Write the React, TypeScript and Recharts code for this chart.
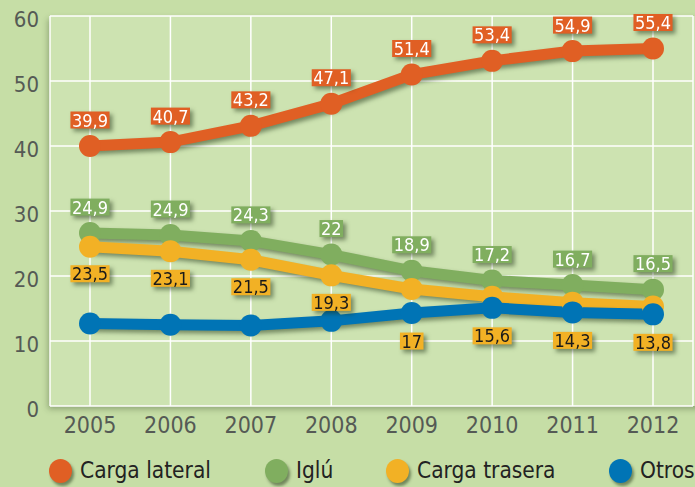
import { LineChart, Line, XAxis, YAxis, CartesianGrid, Legend, LabelList } from "recharts";

const years = ["2005", "2006", "2007", "2008", "2009", "2010", "2011", "2012"];

// plotted positions
const cargaLateral = [40.0, 40.6, 43.1, 46.5, 51.0, 53.1, 54.6, 55.0];
const iglu = [26.6, 26.3, 25.4, 23.3, 20.8, 19.3, 18.6, 17.9];
const cargaTrasera = [24.5, 23.8, 22.5, 20.1, 18.0, 16.8, 15.9, 15.3];
const otros = [12.7, 12.5, 12.4, 13.1, 14.3, 15.1, 14.4, 14.1];

// printed value labels
const lateralLabels = ["39,9", "40,7", "43,2", "47,1", "51,4", "53,4", "54,9", "55,4"];
const igluLabels = ["24,9", "24,9", "24,3", "22", "18,9", "17,2", "16,7", "16,5"];
const traseraLabels = ["23,5", "23,1", "21,5", "19,3", "17", "15,6", "14,3", "13,8"];

const yTicks = [0, 10, 20, 30, 40, 50, 60];

const series = [
  { key: "lateral", name: "Carga lateral", color: "#e05f24", left: 49 },
  { key: "iglu", name: "Iglú", color: "#80ae5f", left: 265 },
  { key: "trasera", name: "Carga trasera", color: "#f2b125", left: 386 },
  { key: "otros", name: "Otros", color: "#0074b5", left: 609 },
];

const data = years.map((year, i) => ({
  year,
  lateral: cargaLateral[i],
  iglu: iglu[i],
  trasera: cargaTrasera[i],
  otros: otros[i],
}));

const FONT = "'DejaVu Sans Condensed', 'Liberation Sans Narrow', Roboto, sans-serif";
const LABEL_FS = 18;

// trasera label goes under the blue line when the two lines are close
const nearOtros = (i: number) => cargaTrasera[i] - otros[i] < 6;

const textWidth = (s: string) =>
  s.split("").reduce((w, c) => w + (c === "," ? 0.29 : 0.572) * LABEL_FS, 0);

const makeLabel =
  (labels: string[], bg: string, fg: string, dy: number, show: (i: number) => boolean) =>
  // eslint-disable-next-line @typescript-eslint/no-explicit-any
  (props: any) => {
    const { x, y, index } = props;
    if (x == null || y == null || !show(index)) return null;
    const txt = labels[index];
    const w = textWidth(txt) + 3;
    const cy = y + dy;
    return (
      <g className="lbl">
        <rect x={x - w / 2} y={cy - 8.5} width={w} height={17} fill={bg} />
        <text x={x} y={cy + 6.5} textAnchor="middle" fontSize={LABEL_FS} fill={fg} fontFamily={FONT}>
          {txt}
        </text>
      </g>
    );
  };

const renderLegend = () => (
  <div style={{ position: "relative", height: 40, fontFamily: FONT, fontSize: 22.5, color: "#222" }}>
    {series.map((s) => (
      <div
        key={s.key}
        style={{
          position: "absolute",
          left: s.left,
          top: 12,
          display: "flex",
          alignItems: "center",
          height: 23,
          whiteSpace: "nowrap",
        }}
      >
        <span
          style={{
            width: 23,
            height: 24,
            flexShrink: 0,
            borderRadius: "50%",
            background: s.color,
            marginRight: 8,
            boxShadow: "2px 3px 3px rgba(30,50,20,0.5)",
          }}
        />
        <span style={{ lineHeight: "23px" }}>{s.name}</span>
      </div>
    ))}
  </div>
);

export default function App() {
  return (
    <div
      style={{
        position: "absolute",
        left: 0,
        top: 0,
        width: 695,
        height: 487,
        background: "#c6dea6",
        overflow: "hidden",
      }}
    >
      <style>{`
        .recharts-line, .lbl { filter: drop-shadow(3px 3px 2px rgba(30,50,20,0.5)); }
      `}</style>
      <div
        style={{
          position: "absolute",
          left: 50,
          top: 16,
          width: 660,
          height: 390,
          background: "#cde3b1",
          boxShadow: "-2px 3px 6px rgba(40,60,30,0.35)",
        }}
      />
      <div style={{ position: "absolute", left: 0, top: 0 }}>
        <LineChart width={695} height={487} data={data} margin={{ top: 16, right: 2, left: 0, bottom: 0 }}>
          <CartesianGrid stroke="#ffffff" strokeWidth={1.5} />
          <XAxis
            dataKey="year"
            height={41}
            axisLine={false}
            tickLine={false}
            tickMargin={5}
            padding={{ left: 40, right: 40 }}
            tick={{ fontSize: 23, fill: "#555a55", fontFamily: FONT }}
          />
          <YAxis
            width={50}
            domain={[0, 60]}
            ticks={yTicks}
            axisLine={false}
            tickLine={false}
            tickMargin={5}
            tick={{ fontSize: 22, fill: "#555a55", fontFamily: FONT, dy: 3 }}
          />
          <Legend verticalAlign="bottom" height={40} content={renderLegend} wrapperStyle={{ left: 0, width: 695 }} />
          <Line
            dataKey="lateral"
            name="Carga lateral"
            stroke="#e05f24"
            strokeWidth={11}
            dot={{ r: 11, fill: "#e05f24", stroke: "none" }}
            activeDot={false}
            isAnimationActive={false}
          >
            <LabelList dataKey="lateral" content={makeLabel(lateralLabels, "#e05f24", "#fff", -26, () => true)} />
          </Line>
          <Line
            dataKey="iglu"
            name="Iglú"
            stroke="#80ae5f"
            strokeWidth={11}
            dot={{ r: 11, fill: "#80ae5f", stroke: "none" }}
            activeDot={false}
            isAnimationActive={false}
          >
            <LabelList dataKey="iglu" content={makeLabel(igluLabels, "#80ae5f", "#fff", -26, () => true)} />
          </Line>
          <Line
            dataKey="trasera"
            name="Carga trasera"
            stroke="#f2b125"
            strokeWidth={11}
            dot={{ r: 11, fill: "#f2b125", stroke: "none" }}
            activeDot={false}
            isAnimationActive={false}
          >
            <LabelList
              dataKey="trasera"
              content={makeLabel(traseraLabels, "#f2b125", "#1a1a1a", 27, (i) => !nearOtros(i))}
            />
          </Line>
          <Line
            dataKey="otros"
            name="Otros"
            stroke="#0074b5"
            strokeWidth={11}
            dot={{ r: 11, fill: "#0074b5", stroke: "none" }}
            activeDot={false}
            isAnimationActive={false}
          >
            <LabelList
              dataKey="otros"
              content={makeLabel(traseraLabels, "#f2b125", "#1a1a1a", 28, (i) => nearOtros(i))}
            />
          </Line>
        </LineChart>
      </div>
    </div>
  );
}
